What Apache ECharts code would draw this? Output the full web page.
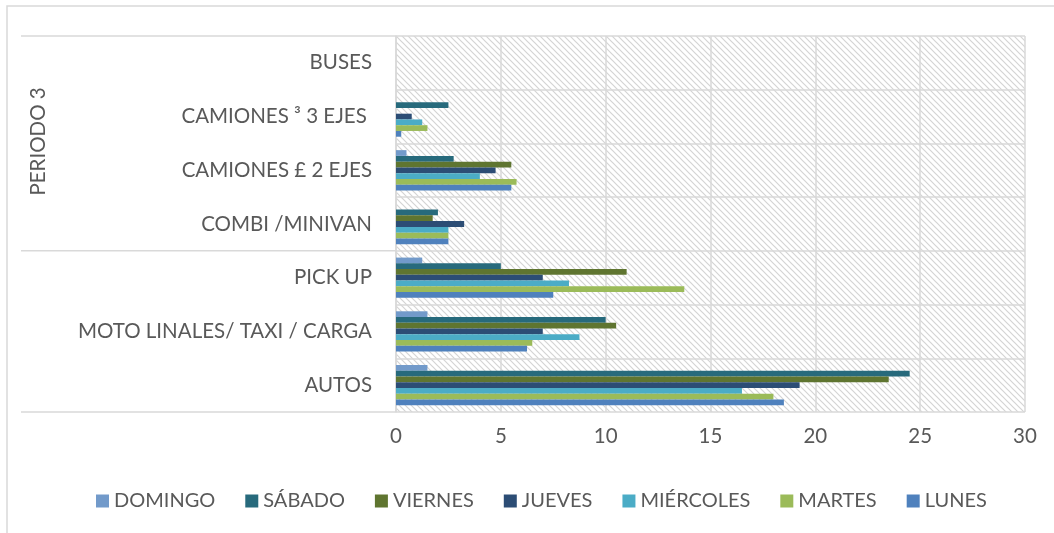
<!DOCTYPE html>
<html>
<head>
<meta charset="utf-8">
<script src="https://cdn.jsdelivr.net/npm/echarts@6/dist/echarts.min.js"></script>
<style>
  html, body { margin: 0; padding: 0; background: #fff; }
  #chart { width: 1054px; height: 533px; }
</style>
</head>
<body>
<div id="chart"></div>
<script>
// categories, bottom to top (as the axis draws them)
var categories = ['AUTOS', 'MOTO LINALES/ TAXI / CARGA', 'PICK UP', 'COMBI /MINIVAN',
  'CAMIONES £ 2 EJES', 'CAMIONES ³ 3 EJES ', 'BUSES']
var xTicks = [0, 5, 10, 15, 20, 25, 30]

// one array per day, same order as categories
var lunes     = [18.5, 6.25, 7.5, 2.5, 5.5, 0.25, 0]
var martes    = [18, 6.5, 13.75, 2.5, 5.75, 1.5, 0]
var miercoles = [16.5, 8.75, 8.25, 2.5, 4, 1.25, 0]
var jueves    = [19.25, 7, 7, 3.25, 4.75, 0.75, 0]
var viernes   = [23.5, 10.5, 11, 1.75, 5.5, 0, 0]
var sabado    = [24.5, 10, 5, 2, 2.75, 2.5, 0]
var domingo   = [1.5, 1.5, 1.25, 0, 0.5, 0, 0]

// first series is drawn on top inside each band
var seriesNames = ['DOMINGO', 'SÁBADO', 'VIERNES', 'JUEVES', 'MIÉRCOLES', 'MARTES', 'LUNES']
var seriesData = [domingo, sabado, viernes, jueves, miercoles, martes, lunes]
var colors = ['#729aca', '#276a7c', '#5f7530', '#2c4d75', '#4bacc6', '#9bbb59', '#4f81bd']

var gridTop = 36, gridBottom = 412, gridLeft = 396
var textColor = '#595959'
var lineColor = '#d9d9d9'
var font = 'Lato'
var fontSize = 20.5

// diagonal hatch like excel's pattern fill
function hatch() {
  var c = document.createElement('canvas')
  c.width = 6
  c.height = 6
  var ctx = c.getContext('2d')
  ctx.strokeStyle = '#d4d4d4'
  ctx.lineWidth = 1.2
  ctx.beginPath()
  ctx.moveTo(-1, -1); ctx.lineTo(7, 7)
  ctx.moveTo(-1, 5); ctx.lineTo(1, 7)
  ctx.moveTo(5, -1); ctx.lineTo(7, 1)
  ctx.stroke()
  return c
}

var chart = echarts.init(document.getElementById('chart'))

var series = seriesNames.map(function (name, i) {
  return {
    name: name,
    type: 'bar',
    data: seriesData[i],
    barGap: '0%',
    barCategoryGap: '25%',
    itemStyle: { color: colors[i] },
    animation: false
  }
})

// the group separator lines that run under "PERIODO 3"
var band = (gridBottom - gridTop) / categories.length
var longLines = [gridTop, gridBottom - 3 * band, gridBottom].map(function (y) {
  return {
    type: 'line',
    shape: { x1: 21, y1: y, x2: gridLeft, y2: y },
    style: { stroke: lineColor, lineWidth: 1.5 }
  }
})

chart.setOption({
  color: colors,
  grid: {
    left: gridLeft,
    right: 29,
    top: gridTop,
    bottom: 533 - gridBottom,
    show: true,
    borderWidth: 0,
    backgroundColor: { image: hatch(), repeat: 'repeat' }
  },
  legend: {
    data: seriesNames,
    left: 91,
    top: 486,
    icon: 'rect',
    itemWidth: 13,
    itemHeight: 13,
    itemGap: 30,
    textStyle: { color: textColor, fontSize: 20, fontFamily: font }
  },
  xAxis: {
    type: 'value',
    min: 0,
    max: 30,
    interval: 5,
    axisLine: { show: false },
    axisTick: { show: false },
    splitLine: { lineStyle: { color: lineColor, width: 1.5 } },
    axisLabel: {
      color: textColor, fontSize: fontSize, fontFamily: font, margin: 14,
      formatter: function (v) { return xTicks.indexOf(v) >= 0 ? String(v) : '' }
    }
  },
  yAxis: {
    type: 'category',
    data: categories,
    axisLine: { lineStyle: { color: lineColor, width: 1.5 } },
    axisTick: { length: gridLeft - 75, lineStyle: { color: lineColor, width: 1.5 } },
    splitLine: { show: true, lineStyle: { color: lineColor, width: 1.5 } },
    axisLabel: { color: textColor, fontSize: fontSize, fontFamily: font, margin: 24 }
  },
  graphic: [
    {
      type: 'rect',
      shape: { x: 7, y: 6, width: 1100, height: 600 },
      style: { fill: 'none', stroke: lineColor, lineWidth: 1.5 },
      silent: true
    },
    {
      type: 'text',
      x: 38,
      y: (gridTop + gridBottom - 3 * band) / 2 - 2,
      rotation: Math.PI / 2,
      style: {
        text: 'PERIODO 3', fill: textColor, fontSize: fontSize, fontFamily: font,
        align: 'center', verticalAlign: 'middle'
      }
    }
  ].concat(longLines),
  series: series
})
</script>
</body>
</html>
